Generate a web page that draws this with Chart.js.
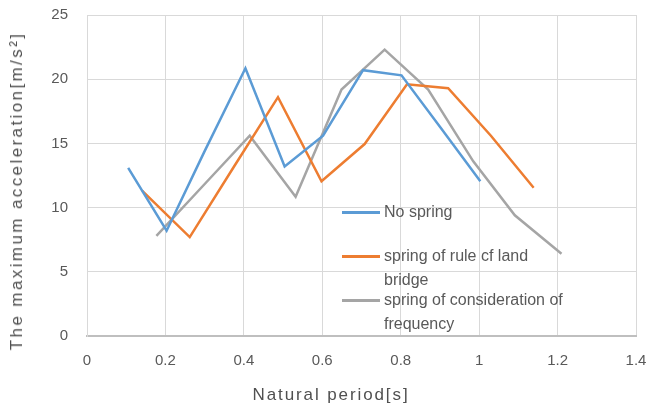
<!DOCTYPE html>
<html>
<head>
<meta charset="utf-8">
<script src="https://cdn.jsdelivr.net/npm/chart.js@4/dist/chart.umd.min.js"></script>
<style>
  html, body { margin: 0; padding: 0; background: #ffffff; }
  #wrap { position: relative; width: 647px; height: 408px; overflow: hidden; font-family: "Liberation Sans", Arial, sans-serif; }
  #c { position: absolute; left: 0; top: 0; }
  .ytitle { position: absolute; left: 17px; top: 191px; transform: translate(-50%, -50%) rotate(-90deg); white-space: nowrap; font-size: 17px; letter-spacing: 2.4px; color: #505050; }
  .xtitle { position: absolute; left: 331px; top: 395px; transform: translate(-50%, -50%); white-space: nowrap; font-size: 17px; letter-spacing: 1.9px; color: #505050; }
  .leg { position: absolute; left: 342px; }
  .leg .ln { position: absolute; left: 0; width: 38px; height: 3px; }
  .leg .tx { position: absolute; left: 42px; font-size: 16px; line-height: 23.5px; color: #595959; white-space: nowrap; }
</style>
</head>
<body>
<div id="wrap">
  <canvas id="c" width="647" height="408"></canvas>
  <div class="ytitle">The maximum acceleration[m/s²]</div>
  <div class="xtitle">Natural period[s]</div>
  <div id="legend"></div>
</div>
<script>
// ---- data ----
const seriesNames = ["No spring", "spring of rule cf land bridge", "spring of consideration of frequency"];
const legendLines = [["No spring"], ["spring of rule cf land", "bridge"], ["spring of consideration of", "frequency"]];
const seriesColors = ["#5b9bd5", "#ed7d31", "#a5a5a5"];

const noSpringX = [0.105, 0.203, 0.300, 0.404, 0.504, 0.602, 0.704, 0.802, 0.900, 1.003];
const noSpringY = [13.1, 8.2, 14.4, 20.85, 13.2, 15.6, 20.7, 20.3, 16.3, 12.05];

const landBridgeX = [0.141, 0.262, 0.375, 0.487, 0.598, 0.708, 0.816, 0.921, 1.030, 1.139];
const landBridgeY = [11.3, 7.7, 13.2, 18.6, 12.05, 14.95, 19.6, 19.3, 15.6, 11.55];

const frequencyX = [0.177, 0.296, 0.415, 0.532, 0.649, 0.759, 0.870, 0.985, 1.091, 1.210];
const frequencyY = [7.8, 11.7, 15.6, 10.85, 19.2, 22.3, 19.2, 13.6, 9.4, 6.4];

const xTickValues = [0, 0.2, 0.4, 0.6, 0.8, 1, 1.2, 1.4];
const yTickValues = [0, 5, 10, 15, 20, 25];

// ---- build chart ----
function pts(xs, ys) { return xs.map((x, i) => ({ x: x, y: ys[i] })); }
const seriesData = [pts(noSpringX, noSpringY), pts(landBridgeX, landBridgeY), pts(frequencyX, frequencyY)];

const datasets = seriesNames.map((name, i) => ({
  label: name,
  data: seriesData[i],
  borderColor: seriesColors[i],
  backgroundColor: seriesColors[i],
  borderWidth: 2.5,
  pointRadius: 0,
  tension: 0,
  fill: false
}));

const tickFont = { family: "'Liberation Sans', Arial, sans-serif", size: 15 };

new Chart(document.getElementById('c'), {
  type: 'line',
  data: { datasets: datasets },
  options: {
    responsive: false,
    animation: false,
    devicePixelRatio: 1,
    layout: { padding: { left: 0, top: 15, right: 11, bottom: 0 } },
    plugins: { legend: { display: false }, tooltip: { enabled: false }, title: { display: false } },
    scales: {
      x: {
        type: 'linear',
        min: 0, max: 1.4,
        afterBuildTicks: s => { s.ticks = xTickValues.map(v => ({ value: v })); },
        afterFit: s => { s.height = 72; s.paddingLeft = 0; s.paddingRight = 0; },
        ticks: { color: '#595959', font: tickFont, padding: 16, maxRotation: 0, autoSkip: false,
                 callback: v => String(v) },
        grid: { color: '#d9d9d9', lineWidth: 1, drawTicks: false },
        border: { color: '#bfbfbf', width: 2 }
      },
      y: {
        type: 'linear',
        min: 0, max: 25,
        afterBuildTicks: s => { s.ticks = yTickValues.map(v => ({ value: v })); },
        afterFit: s => { s.width = 87; s.paddingTop = 0; s.paddingBottom = 0; },
        ticks: { color: '#595959', font: tickFont, padding: 19, callback: v => String(v) },
        grid: { color: '#d9d9d9', lineWidth: 1, drawTicks: false },
        border: { color: '#d9d9d9', width: 1 }
      }
    }
  }
});

// ---- legend (HTML text) ----
const legendCenters = [212, 256, 300];
const legendEl = document.getElementById('legend');
legendLines.forEach((lines, i) => {
  const item = document.createElement('div');
  item.className = 'leg';
  item.style.top = legendCenters[i] + 'px';
  const ln = document.createElement('div');
  ln.className = 'ln';
  ln.style.background = seriesColors[i];
  ln.style.top = '-1.5px';
  const tx = document.createElement('div');
  tx.className = 'tx';
  tx.style.top = '-11.75px';
  tx.innerHTML = lines.join('<br>');
  item.appendChild(ln);
  item.appendChild(tx);
  legendEl.appendChild(item);
});
</script>
</body>
</html>
